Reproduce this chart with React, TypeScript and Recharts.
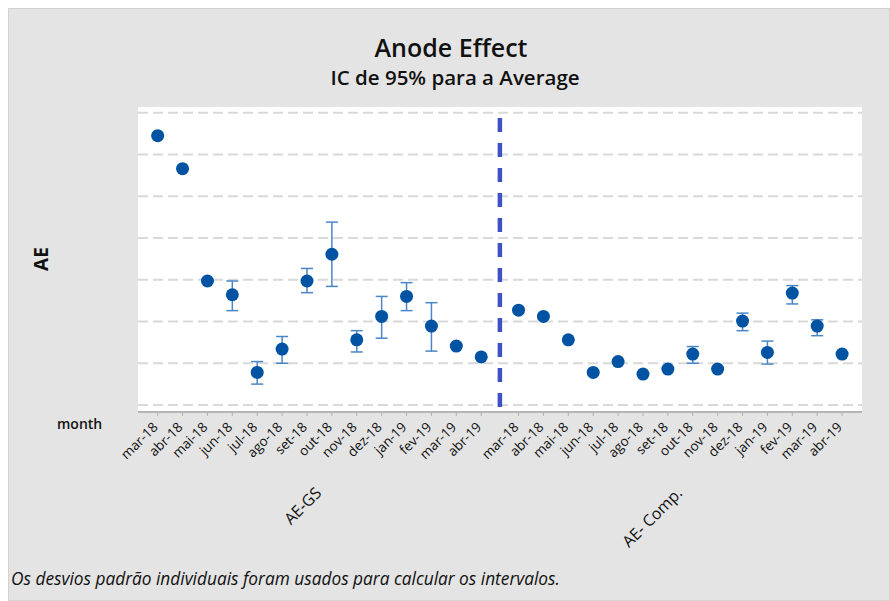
import { ScatterChart, Scatter, XAxis, YAxis, CartesianGrid, ReferenceLine, ErrorBar } from 'recharts';

document.body.style.margin = '0';

const months = ['mar-18', 'abr-18', 'mai-18', 'jun-18', 'jul-18', 'ago-18', 'set-18', 'out-18', 'nov-18', 'dez-18', 'jan-19', 'fev-19', 'mar-19', 'abr-19'];
const groups = ['AE-GS', 'AE- Comp.'];

// AE-GS: mean and 95% CI bounds (null = no interval drawn)
const gsMean = [6.45, 5.66, 2.97, 2.64, 0.78, 1.34, 2.97, 3.61, 1.56, 2.12, 2.6, 1.89, 1.41, 1.15];
const gsLow = [null, null, null, 2.26, 0.5, 1.0, 2.69, 2.84, 1.27, 1.6, 2.26, 1.29, null, null];
const gsHigh = [null, null, null, 2.97, 1.04, 1.64, 3.27, 4.38, 1.78, 2.6, 2.93, 2.45, null, null];

// AE- Comp.
const compMean = [2.27, 2.12, 1.56, 0.78, 1.04, 0.74, 0.86, 1.22, 0.86, 2.01, 1.26, 2.68, 1.89, 1.22];
const compLow = [null, null, null, null, null, null, null, 1.0, null, 1.78, 0.98, 2.42, 1.66, null];
const compHigh = [null, null, null, null, null, null, null, 1.4, null, 2.2, 1.53, 2.86, 2.04, null];

const gridValues = [0, 1, 2, 3, 4, 5, 6, 7];

// group 2 starts after a 1.5 slot gap
const groupStart = [0, 14.5];
const divider = 13.75;

const FONT = '"Open Sans", "Noto Sans", sans-serif';

const buildRows = (start: number, mean: number[], low: (number | null)[], high: (number | null)[]) =>
  mean.map((m, i) => ({
    x: start + i,
    y: m,
    err: low[i] == null || high[i] == null ? [0, 0] : [m - (low[i] as number), (high[i] as number) - m],
  }));

const rows = [
  ...buildRows(groupStart[0], gsMean, gsLow, gsHigh),
  ...buildRows(groupStart[1], compMean, compLow, compHigh),
];

const monthTicks = rows.map((r) => r.x);
const groupTicks = groupStart.map((s) => s + (months.length - 1) / 2);

const MonthTick = (props: any) => {
  const { x, y, index } = props;
  const tx = x + 1;
  const ty = y + 12;
  return (
    <text
      x={tx}
      y={ty}
      transform={`rotate(-45 ${tx} ${ty})`}
      textAnchor="end"
      fontSize={13.5}
      fontFamily={FONT}
      fill="#111"
    >
      {months[index % months.length]}
    </text>
  );
};

const GroupTick = (props: any) => {
  const { x, y, index } = props;
  const tx = x + 3;
  const ty = y + 12;
  return (
    <text
      x={tx}
      y={ty}
      transform={`rotate(-45 ${tx} ${ty})`}
      textAnchor="end"
      fontSize={16}
      fontFamily={FONT}
      fill="#111"
    >
      {groups[index]}
    </text>
  );
};

const Dot = (props: any) => <circle cx={props.cx} cy={props.cy} r={6.5} fill="#0053a2" />;

const xDomain = [-0.79, 28.3];

export default function App() {
  return (
    <div style={{ position: 'relative', width: 890, height: 601, background: '#ffffff', fontFamily: FONT }}>
      <div
        style={{
          position: 'absolute',
          left: 8,
          top: 8,
          width: 880,
          height: 591,
          background: '#e4e4e4',
          border: '1px solid #d2d2d2',
        }}
      />
      <div style={{ position: 'absolute', left: 0, top: 0 }}>
        <ScatterChart width={890} height={601} margin={{ top: 107, right: 28, bottom: 59, left: 138 }}>
          <CartesianGrid
            vertical={false}
            horizontalValues={gridValues}
            fill="#ffffff"
            stroke="#d9d9d9"
            strokeWidth={2}
            strokeDasharray="10 5"
          />
          <XAxis
            xAxisId="top"
            orientation="top"
            type="number"
            dataKey="x"
            domain={xDomain}
            allowDataOverflow
            height={0}
            tick={false}
            tickLine={false}
            axisLine={{ stroke: '#a9a9a9', strokeWidth: 2 }}
          />
          <XAxis
            type="number"
            dataKey="x"
            domain={xDomain}
            allowDataOverflow
            ticks={monthTicks}
            interval={0}
            height={70}
            tickSize={4}
            tickMargin={0}
            tickLine={{ stroke: '#b0b0b0' }}
            axisLine={{ stroke: '#b5b5b5', strokeWidth: 2 }}
            tick={<MonthTick />}
          />
          <XAxis
            xAxisId="grp"
            type="number"
            dataKey="x"
            domain={xDomain}
            allowDataOverflow
            ticks={groupTicks}
            interval={0}
            height={60}
            tickSize={0}
            tickMargin={0}
            tickLine={false}
            axisLine={false}
            tick={<GroupTick />}
          />
          <YAxis type="number" dataKey="y" domain={[-0.168, 7.137]} allowDataOverflow hide />
          <ReferenceLine
            segment={[
              { x: divider, y: -0.05 },
              { x: divider, y: 6.88 },
            ]}
            stroke="#3f52c4"
            strokeWidth={4.5}
            strokeDasharray="14 11"
          />
          <Scatter data={rows} shape={<Dot />} isAnimationActive={false}>
            <ErrorBar dataKey="err" direction="y" width={6} stroke="#4a86c6" strokeWidth={1.5} />
          </Scatter>
        </ScatterChart>
      </div>
      <div style={{ position: 'absolute', left: 6, width: 890, top: 30, textAlign: 'center', fontSize: 25, fontWeight: 600, color: '#111' }}>
        Anode Effect
      </div>
      <div style={{ position: 'absolute', left: 10, width: 890, top: 63, textAlign: 'center', fontSize: 20.5, fontWeight: 600, color: '#111' }}>
        IC de 95% para a Average
      </div>
      <div
        style={{
          position: 'absolute',
          left: 41,
          top: 259,
          transform: 'translate(-50%, -50%) rotate(-90deg)',
          fontSize: 19,
          fontWeight: 700,
          color: '#111',
          whiteSpace: 'nowrap',
        }}
      >
        AE
      </div>
      <div style={{ position: 'absolute', left: 57, top: 414, fontSize: 14, fontWeight: 600, color: '#111' }}>month</div>
      <div style={{ position: 'absolute', left: 11, top: 567, fontSize: 17.3, fontStyle: 'italic', color: '#111' }}>
        Os desvios padrão individuais foram usados para calcular os intervalos.
      </div>
    </div>
  );
}
